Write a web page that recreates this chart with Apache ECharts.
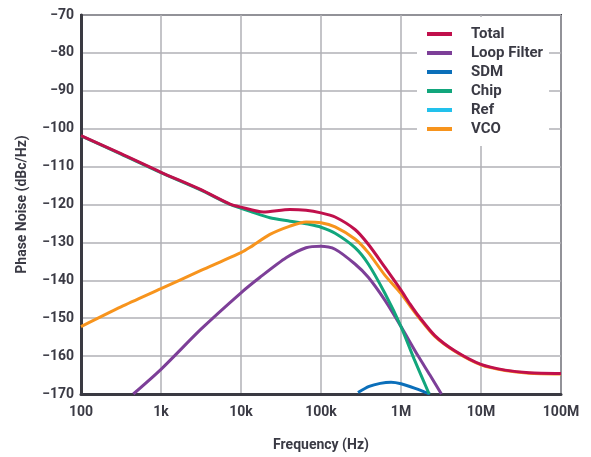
<!DOCTYPE html>
<html>
<head>
<meta charset="utf-8">
<script src="https://cdn.jsdelivr.net/npm/echarts@6/dist/echarts.min.js"></script>
<style>
  html, body { margin: 0; padding: 0; background: #fff; }
  #chart { width: 591px; height: 457px; }
</style>
</head>
<body>
<div id="chart"></div>
<script>
// phase noise data (Hz, dBc/Hz)
const totalFreq = [100, 316, 1e3, 3.16e3, 7.3e3, 1e4, 1.9e4, 4.1e4, 6.5e4, 1e5, 1.5e5, 2.66e5, 3.9e5, 6.31e5, 1e6, 1.3e6, 1.64e6, 2.65e6, 4.7e6, 1e7, 2e7, 4e7, 1e8];
const totalDb = [-101.8, -106.6, -111.5, -116.1, -119.9, -120.7, -122.0, -121.3, -121.5, -122.2, -123.3, -126.6, -130.5, -136.6, -142.6, -146.3, -149.3, -154.6, -158.6, -162.2, -163.7, -164.4, -164.6];

const loopFreq = [451, 1e3, 3.16e3, 1e4, 1.73e4, 3.7e4, 6.5e4, 1e5, 1.5e5, 2.66e5, 3.9e5, 6.31e5, 1e6, 1.64e6, 2.3e6, 3.2e6];
const loopDb = [-170, -163.5, -152.9, -143.3, -139.2, -134.0, -131.4, -131.0, -131.8, -135.7, -139.2, -145.3, -152.2, -160.0, -165.0, -170];

const sdmFreq = [2.9e5, 4e5, 5.5e5, 7.5e5, 1e6, 1.5e6, 2.3e6];
const sdmDb = [-169.6, -168.0, -167.2, -166.9, -167.3, -168.5, -170];

const chipFreq = [100, 316, 1e3, 3.16e3, 7.3e3, 1e4, 1.3e4, 2.3e4, 4.1e4, 7.3e4, 1e5, 1.5e5, 2.66e5, 3.9e5, 6.31e5, 1e6, 1.46e6, 2.25e6];
const chipDb = [-101.9, -106.7, -111.6, -116.2, -120.0, -121.0, -121.8, -123.5, -124.4, -125.3, -126.0, -127.6, -131.4, -135.7, -143.5, -152.2, -160.8, -170];

const refFreq = [];
const refDb = [];

const vcoFreq = [100, 316, 1e3, 3.16e3, 1e4, 1.3e4, 2.3e4, 4.1e4, 6.5e4, 1e5, 1.5e5, 2.66e5, 3.9e5, 6.31e5, 1e6, 1.3e6, 1.64e6, 2.65e6, 4.7e6, 1e7, 2e7, 4e7, 1e8];
const vcoDb = [-152.2, -147.0, -142.2, -137.4, -132.7, -131.3, -127.9, -125.7, -124.6, -124.8, -125.9, -129.1, -132.7, -138.7, -143.5, -146.8, -149.6, -154.8, -158.7, -162.3, -163.8, -164.5, -164.7];

const xTickLabels = ['100', '1k', '10k', '100k', '1M', '10M', '100M'];

const textColor = '#3a3a44';
const font = 'Roboto';

function pairs(f, v) {
  return f.map((x, i) => [x, v[i]]);
}

function line(name, color, f, v) {
  return {
    name: name,
    type: 'line',
    data: pairs(f, v),
    smooth: 0.25,
    showSymbol: false,
    clip: true,
    lineStyle: { color: color, width: 3 },
    itemStyle: { color: color }
  };
}

const chart = echarts.init(document.getElementById('chart'));

const option = {
  animation: false,
  textStyle: { fontFamily: font },
  grid: {
    left: 81, right: 30, top: 15, bottom: 59,
    show: true,
    borderColor: '#3a3a42',
    borderWidth: 2
  },
  legend: {
    orient: 'vertical',
    left: 417,
    top: 17,
    padding: [9, 6, 9, 10],
    backgroundColor: '#fff',
    itemWidth: 25,
    itemHeight: 4,
    itemGap: 3,
    icon: 'rect',
    data: ['Total', 'Loop Filter', 'SDM', 'Chip', 'Ref', 'VCO'],
    textStyle: {
      color: textColor,
      fontFamily: font,
      fontWeight: 'bold',
      fontSize: 15,
      lineHeight: 16,
      padding: [0, 0, 0, 14]
    }
  },
  xAxis: {
    type: 'log',
    logBase: 10,
    min: 100,
    max: 1e8,
    name: 'Frequency (Hz)',
    nameLocation: 'middle',
    nameGap: 44,
    nameTextStyle: { color: textColor, fontWeight: 'bold', fontSize: 14, fontFamily: font },
    axisLine: { lineStyle: { color: '#3a3a42', width: 3 } },
    axisTick: { show: false },
    axisLabel: {
      color: textColor,
      fontWeight: 'bold',
      fontSize: 14,
      margin: 11,
      formatter: v => xTickLabels[Math.round(Math.log10(v)) - 2]
    },
    splitLine: { show: true, lineStyle: { color: '#b0b0b6', width: 1.5 } }
  },
  yAxis: {
    type: 'value',
    min: -170,
    max: -70,
    interval: 10,
    name: 'Phase Noise (dBc/Hz)',
    nameLocation: 'middle',
    nameGap: 52,
    nameTextStyle: { color: textColor, fontWeight: 'bold', fontSize: 14, fontFamily: font },
    axisLine: { show: true, lineStyle: { color: '#3a3a42', width: 3 } },
    axisTick: { show: false },
    axisLabel: {
      color: textColor,
      fontWeight: 'bold',
      fontSize: 14,
      margin: 7,
      formatter: v => String(v).replace('-', '\u2212')
    },
    splitLine: { show: true, lineStyle: { color: '#b0b0b6', width: 1.5 } }
  },
  series: [
    line('Loop Filter', '#7d3f98', loopFreq, loopDb),
    line('SDM', '#0b6fba', sdmFreq, sdmDb),
    line('Chip', '#12a67c', chipFreq, chipDb),
    line('Ref', '#22c1ec', refFreq, refDb),
    line('VCO', '#f7941d', vcoFreq, vcoDb),
    line('Total', '#c0104c', totalFreq, totalDb)
  ]
};

chart.setOption(option);
</script>
</body>
</html>
